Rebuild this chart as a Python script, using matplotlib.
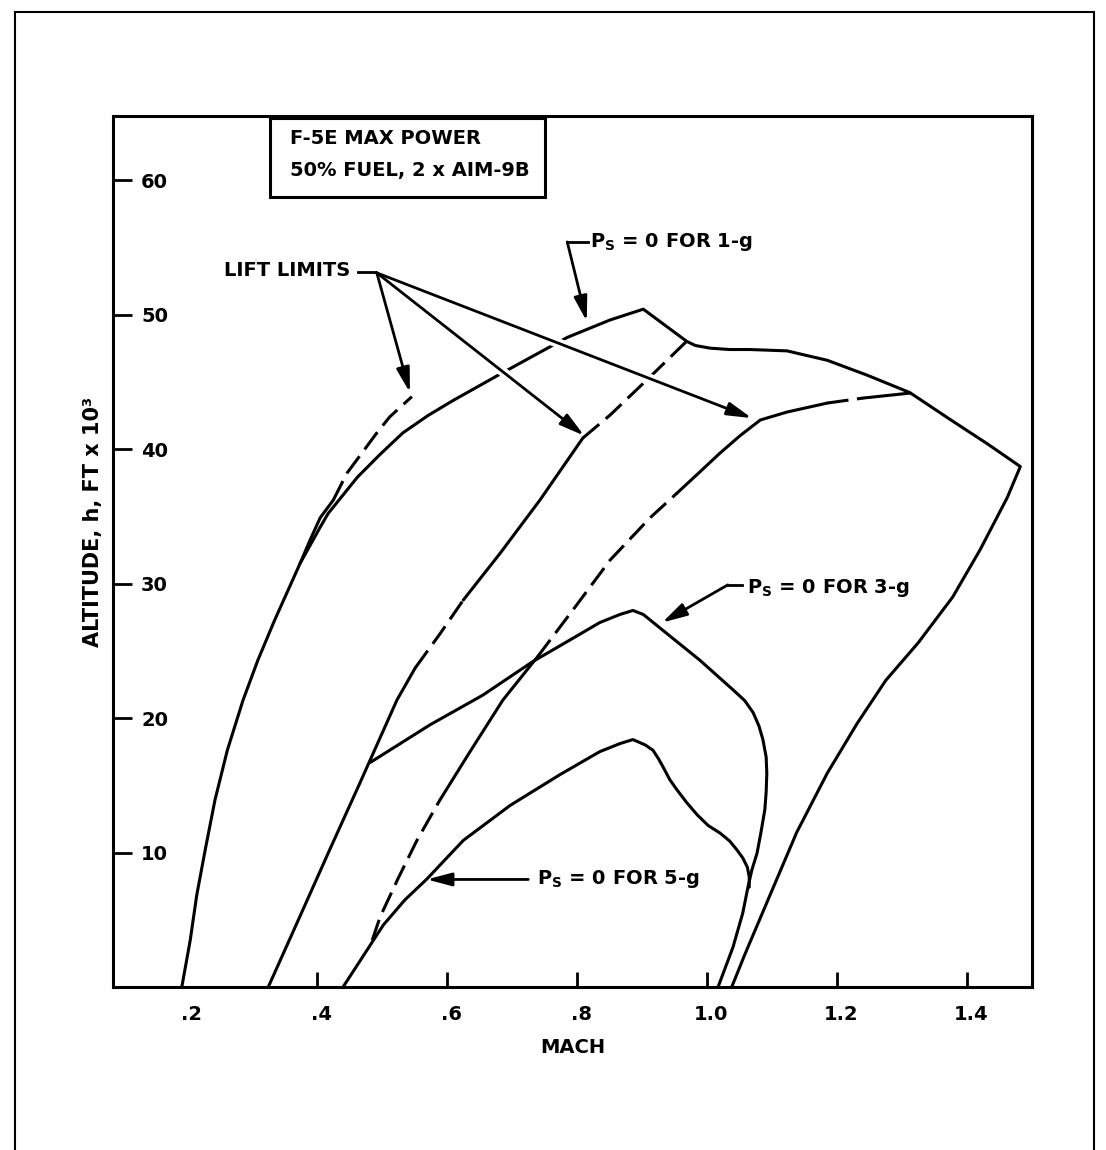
import matplotlib
matplotlib.use("Agg")
import matplotlib.pyplot as plt
from matplotlib.patches import Rectangle
from matplotlib.transforms import ScaledTranslation

plt.rcParams["font.family"] = ["DejaVu Sans"]
plt.rcParams["font.weight"] = "bold"

# --- data (Mach, altitude in 1000 ft) ---

# Ps = 0 for 1-g: left foot, over the top, down the right side
MACH_1G = [0.192, 0.205, 0.215, 0.228, 0.243, 0.262, 0.286, 0.309, 0.335, 0.374,
           0.405, 0.417, 0.462, 0.497, 0.532, 0.571, 0.609, 0.679, 0.728, 0.785,
           0.851, 0.902, 0.969, 0.982, 1.005, 1.035, 1.066, 1.123, 1.185, 1.246,
           1.312, 1.374, 1.431, 1.482, 1.462, 1.420, 1.378, 1.325, 1.275, 1.231,
           1.185, 1.138, 1.094, 1.058, 1.038]
ALT_1G = [0.0, 3.5, 6.84, 10.2, 13.9, 17.6, 21.3, 24.3, 27.3, 31.5,
          34.2, 35.2, 37.9, 39.6, 41.2, 42.5, 43.6, 45.5, 46.8, 48.3,
          49.6, 50.4, 48.0, 47.7, 47.5, 47.4, 47.4, 47.3, 46.6, 45.5,
          44.2, 42.2, 40.4, 38.7, 36.4, 32.5, 29.0, 25.6, 22.8, 19.6,
          15.9, 11.5, 6.5, 2.4, 0.0]

# Ps = 0 for 3-g (leaves the second lift limit line on the left)
MACH_3G = [0.482, 0.574, 0.655, 0.732, 0.789, 0.835, 0.866, 0.886, 0.902, 0.989,
           1.040, 1.058, 1.071, 1.080, 1.086, 1.091, 1.092, 1.091, 1.089, 1.083,
           1.077, 1.069, 1.063, 1.055, 1.040, 1.017]
ALT_3G = [16.7, 19.5, 21.7, 24.2, 25.8, 27.1, 27.7, 28.0, 27.7, 24.3,
          22.1, 21.3, 20.4, 19.4, 18.4, 17.1, 15.9, 14.5, 13.2, 11.5,
          9.96, 8.7, 7.43, 5.5, 2.97, 0.0]

# Ps = 0 for 5-g
MACH_5G = [0.440, 0.459, 0.477, 0.502, 0.535, 0.569, 0.625, 0.697, 0.774, 0.835,
           0.866, 0.886, 0.905, 0.917, 0.925, 0.932, 0.943, 0.954, 0.969, 0.985,
           1.002, 1.020, 1.035, 1.046, 1.055, 1.062, 1.065, 1.065]
ALT_5G = [0.0, 1.41, 2.75, 4.61, 6.47, 8.03, 10.9, 13.5, 15.8, 17.5,
          18.1, 18.4, 18.0, 17.6, 17.0, 16.4, 15.4, 14.65, 13.7, 12.8,
          12.0, 11.45, 10.85, 10.2, 9.6, 8.92, 8.2, 7.43]

# lift limit 1 (branches off the 1-g curve)
LL1_SOLID_MACH = [0.374, 0.389, 0.405, 0.425]
LL1_SOLID_ALT = [31.5, 33.2, 34.9, 36.2]
LL1_DASH_MACH = [0.425, 0.446, 0.469, 0.492, 0.512, 0.546]
LL1_DASH_ALT = [36.2, 38.2, 39.7, 41.2, 42.4, 43.9]

# lift limit 2
LL2_A_MACH = [0.325, 0.374, 0.420, 0.466, 0.523, 0.551]
LL2_A_ALT = [0.0, 5.28, 10.26, 15.17, 21.34, 23.72]
LL2_B_MACH = [0.551, 0.589, 0.625]
LL2_B_ALT = [23.72, 26.25, 28.77]
LL2_C_MACH = [0.625, 0.682, 0.743, 0.809]
LL2_C_ALT = [28.77, 32.27, 36.21, 40.82]
LL2_D_MACH = [0.809, 0.851, 0.912, 0.969]
LL2_D_ALT = [40.82, 42.53, 45.35, 48.03]

# lift limit 3 (leaves the 5-g foot)
LL3_A_MACH = [0.485, 0.497, 0.525, 0.554, 0.589]
LL3_A_ALT = [3.49, 5.2, 8.1, 10.93, 13.9]
LL3_B_MACH = [0.589, 0.635, 0.686, 0.739]
LL3_B_ALT = [13.9, 17.47, 21.34, 24.54]
LL3_C_MACH = [0.739, 0.797, 0.851, 0.912, 0.954]
LL3_C_ALT = [24.54, 28.25, 31.75, 34.87, 36.73]
LL3_D_MACH = [0.954, 0.989, 1.020, 1.051, 1.082, 1.123, 1.185]
LL3_D_ALT = [36.73, 38.3, 39.7, 41.0, 42.16, 42.75, 43.42]
LL3_E_MACH = [1.185, 1.240]
LL3_E_ALT = [43.42, 43.79]
LL3_F_MACH = [1.240, 1.312]
LL3_F_ALT = [43.79, 44.16]

X_TICKS = [0.2, 0.4, 0.6, 0.8, 1.0, 1.2, 1.4]
X_LABELS = [".2", ".4", ".6", ".8", "1.0", "1.2", "1.4"]
Y_TICKS = [10, 20, 30, 40, 50, 60]
Y_LABELS = ["10", "20", "30", "40", "50", "60"]

LW = 2.2
DASH = (0, (7, 2.8))
FS = 14


def line(ax, xs, ys, dashed=False):
    ax.plot(xs, ys, color="black", lw=LW, zorder=2,
            linestyle=DASH if dashed else "-",
            solid_capstyle="round", solid_joinstyle="round",
            dash_capstyle="butt")


def arrow(ax, start, tip, halo=False):
    if halo:
        hx = start[0] + 0.85 * (tip[0] - start[0])
        hy = start[1] + 0.85 * (tip[1] - start[1])
        ax.plot([start[0], hx], [start[1], hy], color="white", lw=7,
                solid_capstyle="butt", zorder=3)
    ax.annotate("", xy=tip, xytext=start, zorder=4,
                arrowprops=dict(arrowstyle="-|>,head_length=0.75,head_width=0.2",
                                mutation_scale=20, lw=2.0, color="black",
                                shrinkA=0, shrinkB=0))


def main() -> None:
    fig = plt.figure(figsize=(11.06, 11.5), dpi=100)
    ax = fig.add_axes([0.1022, 0.1417, 0.8309, 0.7574])
    ax.set_xlim(0.0862, 1.5)
    ax.set_ylim(0, 64.76)

    for s in ax.spines.values():
        s.set_linewidth(LW)

    # curves
    line(ax, MACH_1G, ALT_1G)
    line(ax, MACH_3G, ALT_3G)
    line(ax, MACH_5G, ALT_5G)
    line(ax, LL1_SOLID_MACH, LL1_SOLID_ALT)
    line(ax, LL1_DASH_MACH, LL1_DASH_ALT, dashed=True)
    line(ax, LL2_A_MACH, LL2_A_ALT)
    line(ax, LL2_B_MACH, LL2_B_ALT, dashed=True)
    line(ax, LL2_C_MACH, LL2_C_ALT)
    line(ax, LL2_D_MACH, LL2_D_ALT, dashed=True)
    line(ax, LL3_A_MACH, LL3_A_ALT, dashed=True)
    line(ax, LL3_B_MACH, LL3_B_ALT)
    line(ax, LL3_C_MACH, LL3_C_ALT, dashed=True)
    line(ax, LL3_D_MACH, LL3_D_ALT)
    line(ax, LL3_E_MACH, LL3_E_ALT, dashed=True)
    line(ax, LL3_F_MACH, LL3_F_ALT)

    # ticks
    ax.set_xticks(X_TICKS)
    ax.set_xticklabels(X_LABELS, fontsize=FS, fontweight="bold")
    ax.tick_params(axis="x", direction="in", length=11, width=2, pad=13)
    ax.xaxis.get_major_ticks()[0].tick1line.set_visible(False)
    nudge = ScaledTranslation(4 / 100, 0, fig.dpi_scale_trans)
    for lab in ax.get_xticklabels():
        lab.set_transform(lab.get_transform() + nudge)
    ax.set_yticks(Y_TICKS)
    ax.set_yticklabels(Y_LABELS, fontsize=FS, fontweight="bold")
    ax.tick_params(axis="y", direction="in", length=13.5, width=2, pad=-39.6)

    ax.set_xlabel("MACH", fontsize=FS, fontweight="bold", labelpad=10)
    fig.text(93 / 1106, 1 - 522 / 1150, "ALTITUDE, h, FT x 10³", rotation=90,
             ha="center", va="center", fontsize=15, fontweight="bold")

    # title box
    ax.add_patch(Rectangle((0.1708, 0.907), 0.299, 0.0907, transform=ax.transAxes,
                           fill=False, lw=LW, zorder=5))
    ax.text(0.1926, 0.9747, "F-5E MAX POWER", transform=ax.transAxes,
            fontsize=FS, fontweight="bold", va="center", ha="left")
    ax.text(0.1926, 0.938, "50% FUEL, 2 x AIM-9B", transform=ax.transAxes,
            fontsize=FS, fontweight="bold", va="center", ha="left")

    # lift limit callout
    ax.text(0.451, 53.3, "LIFT LIMITS", fontsize=FS, fontweight="bold",
            ha="right", va="center")
    ax.plot([0.463, 0.490], [53.2, 53.2], color="black", lw=2.0)
    origin = (0.492, 53.1)
    arrow(ax, origin, (0.543, 44.2))
    arrow(ax, origin, (0.811, 41.0), halo=True)
    arrow(ax, origin, (1.069, 42.3), halo=True)

    # Ps callouts
    ax.text(0.820, 55.4, r"P$_\mathbf{S}$ = 0 FOR 1-g", fontsize=FS,
            fontweight="bold", ha="left", va="center")
    ax.plot([0.817, 0.785], [55.4, 55.4], color="black", lw=2.0)
    arrow(ax, (0.785, 55.4), (0.815, 49.5))

    ax.text(1.0615, 29.7, r"P$_\mathbf{S}$ = 0 FOR 3-g", fontsize=FS,
            fontweight="bold", ha="left", va="center")
    ax.plot([1.054, 1.032], [29.9, 29.9], color="black", lw=2.0)
    arrow(ax, (1.032, 29.9), (0.931, 27.1))

    ax.text(0.738, 8.0, r"P$_\mathbf{S}$ = 0 FOR 5-g", fontsize=FS,
            fontweight="bold", ha="left", va="center")
    arrow(ax, (0.725, 8.0), (0.569, 8.0))

    # scanned page frame
    fig.add_artist(Rectangle((15 / 1106, -0.02), (1094 - 15) / 1106, 1.02 - 12 / 1150,
                             transform=fig.transFigure, fill=False, lw=1.5,
                             edgecolor="black"))

    fig.savefig("out.png", dpi=100)


if __name__ == "__main__":
    main()
